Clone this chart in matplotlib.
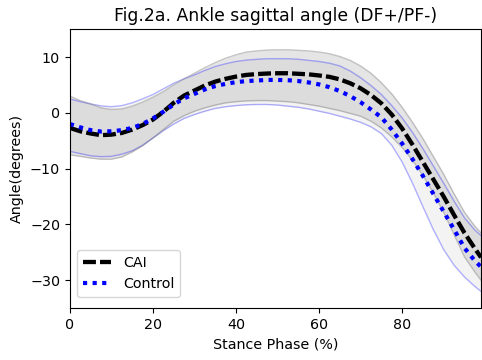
import matplotlib
matplotlib.use("Agg")
import matplotlib.pyplot as plt

# Stance phase sample points (% of stance)
phase = [0, 2.5, 5, 7.5, 10, 12.5, 15, 17.5, 20, 22.5, 25, 27.5, 30, 32.5, 35, 37.5, 40, 42.5,
         45, 47.5, 50, 52.5, 55, 57.5, 60, 62.5, 65, 67.5, 70, 72.5, 75, 77.5, 80, 82.5, 85,
         87.5, 90, 92.5, 95, 97.5, 99]

# CAI group: mean and +/- 1 SD envelope (degrees)
cai_mean = [-2.7, -3.3, -3.7, -4.0, -3.9, -3.6, -3.0, -2.2, -1.2, 0.2, 1.8, 3.1, 4.0, 4.9, 5.6,
            6.1, 6.5, 6.8, 6.95, 7.05, 7.1, 7.1, 7.0, 6.9, 6.7, 6.45, 6.0, 5.3, 4.4, 3.2, 1.7,
            -0.3, -2.8, -5.7, -8.8, -11.9, -15.0, -18.3, -21.5, -24.3, -25.9]
cai_upper = [3.0, 2.2, 1.6, 0.9, 0.6, 0.7, 1.2, 1.9, 2.8, 3.8, 5.0, 6.1, 7.1, 8.1, 9.0, 9.8,
             10.4, 10.9, 11.1, 11.25, 11.3, 11.3, 11.2, 11.1, 10.9, 10.6, 10.1, 9.4, 8.4, 7.1,
             5.4, 3.4, 1.0, -1.7, -4.6, -7.8, -11.0, -14.5, -17.8, -20.3, -21.5]
cai_lower = [-7.5, -7.8, -8.1, -8.3, -8.3, -7.9, -7.0, -5.9, -4.5, -3.0, -1.5, -0.5, 0.3, 0.9,
             1.4, 1.8, 2.0, 2.15, 2.2, 2.2, 2.1, 2.0, 1.8, 1.5, 1.2, 0.8, 0.4, -0.1, -0.6, -1.5,
             -2.7, -4.3, -6.2, -8.5, -11.2, -14.3, -17.8, -21.8, -25.8, -28.5, -30.0]

# Control group: mean and +/- 1 SD envelope (degrees)
ctl_mean = [-2.0, -2.6, -3.1, -3.35, -3.3, -3.1, -2.7, -2.0, -1.0, 0.2, 1.5, 2.6, 3.4, 4.2, 4.8,
            5.2, 5.5, 5.7, 5.8, 5.9, 5.9, 5.85, 5.7, 5.45, 5.1, 4.6, 3.9, 3.0, 1.9, 0.6, -0.8,
            -3.0, -5.5, -8.3, -11.3, -14.5, -17.7, -20.9, -24.2, -26.5, -27.6]
ctl_upper = [2.5, 2.0, 1.6, 1.25, 1.1, 1.3, 1.8, 2.5, 3.3, 4.3, 5.3, 6.1, 6.8, 7.6, 8.3, 8.8,
             9.2, 9.45, 9.6, 9.7, 9.7, 9.7, 9.6, 9.4, 9.2, 8.9, 8.4, 7.5, 6.3, 4.9, 3.3, 1.3,
             -0.9, -3.5, -6.4, -9.5, -12.6, -15.8, -18.8, -21.0, -22.0]
ctl_lower = [-6.9, -7.3, -7.7, -7.85, -7.8, -7.4, -6.8, -5.8, -4.5, -3.2, -2.0, -1.0, -0.3, 0.3,
             0.8, 1.1, 1.3, 1.45, 1.5, 1.5, 1.4, 1.2, 1.0, 0.7, 0.3, -0.1, -0.6, -1.1, -1.7,
             -2.5, -3.7, -5.8, -8.8, -12.6, -16.8, -20.9, -24.5, -27.3, -29.4, -31.1, -32.0]

x_ticks = [0, 20, 40, 60, 80]
y_ticks = [-30, -20, -10, 0, 10]

fig = plt.figure(figsize=(4.82, 3.6), dpi=100)
ax = fig.add_axes([0.145, 0.144, 0.853, 0.775])

# Control envelope
ax.fill_between(phase, ctl_lower, ctl_upper, color="gray", alpha=0.09, linewidth=0)
ax.plot(phase, ctl_upper, color="blue", alpha=0.3, linewidth=1)
ax.plot(phase, ctl_lower, color="blue", alpha=0.3, linewidth=1)

# CAI envelope
ax.fill_between(phase, cai_lower, cai_upper, color="gray", alpha=0.2, linewidth=0)
ax.plot(phase, cai_upper, color="gray", alpha=0.45, linewidth=1)
ax.plot(phase, cai_lower, color="gray", alpha=0.45, linewidth=1)

# Group means
ax.plot(phase, cai_mean, color="black", linestyle=(0, (3.0, 0.95)), linewidth=3.1, label="CAI")
ax.plot(phase, ctl_mean, color="blue", linestyle=(0, (1.0, 1.3)), linewidth=3.0, label="Control")

ax.set_xlim(0, 99)
ax.set_ylim(-35, 15)
ax.set_xticks(x_ticks)
ax.set_yticks(y_ticks)
ax.tick_params(labelsize=10.3)
ax.set_xlabel("Stance Phase (%)", fontsize=10.3)
ax.set_ylabel("Angle(degrees)", fontsize=10.3)
ax.set_title("Fig.2a. Ankle sagittal angle (DF+/PF-)", fontsize=12.4)
ax.legend(loc="lower left", bbox_to_anchor=(0.0, 0.015), fontsize=10.3)

fig.savefig("out.png", dpi=100)
